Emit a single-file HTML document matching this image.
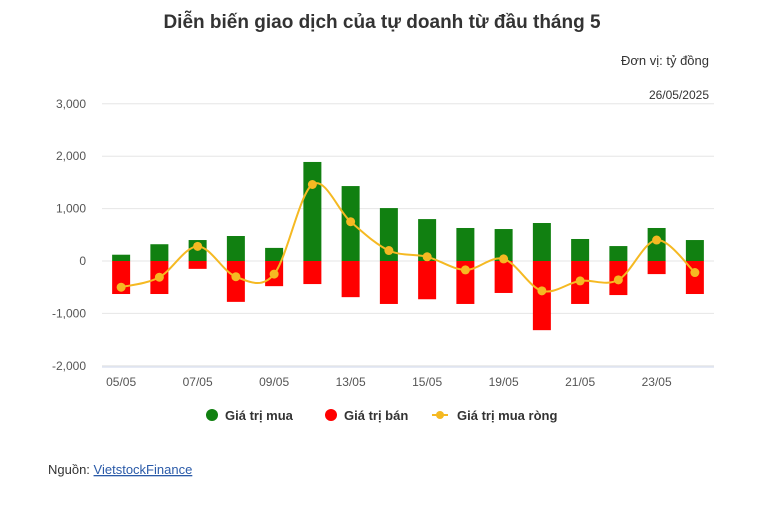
<!DOCTYPE html>
<html><head><meta charset="utf-8"><style>
body{margin:0;background:#fff;font-family:"Liberation Sans",sans-serif;}
#wrap{position:relative;width:757px;height:510px;overflow:hidden}
</style></head><body>
<div id="wrap">
<svg id="chart" width="757" height="510">
<text x="382" y="28" text-anchor="middle" font-size="19" font-weight="bold" fill="#333">Diễn biến giao dịch của tự doanh từ đầu tháng 5</text>
<text x="709" y="65" text-anchor="end" font-size="13" fill="#333">Đơn vị: tỷ đồng</text>
<text x="709" y="99" text-anchor="end" font-size="12" fill="#333">26/05/2025</text>
<g id="grid"></g><g id="bars"></g><g id="line"></g><g id="xaxis"></g>
<g>
<g><circle cx="212" cy="415" r="6" fill="#118011"/><text x="225" y="420" font-size="13" font-weight="bold" fill="#333">Giá trị mua</text></g>
<g><circle cx="331" cy="415" r="6" fill="#ff0000"/><text x="344" y="420" font-size="13" font-weight="bold" fill="#333">Giá trị bán</text></g>
<g><line x1="432" y1="415" x2="448" y2="415" stroke="#f5b922" stroke-width="2"/><circle cx="440" cy="415" r="4" fill="#f5b922"/><text x="457" y="420" font-size="13" font-weight="bold" fill="#333">Giá trị mua ròng</text></g>
</g>
<text x="48" y="474" font-size="13" fill="#333">Nguồn: <tspan fill="#2a5aa8" text-decoration="underline">VietstockFinance</tspan></text>
</svg>
</div>
<script>
const categories=["05/05","06/05","07/05","08/05","09/05","12/05","13/05","14/05","15/05","16/05","19/05","20/05","21/05","22/05","23/05","26/05"];
const buyValues=[120,320,400,477,250,1890,1430,1010,800,630,610,725,420,285,630,400];
const sellValues=[-630,-630,-150,-780,-480,-440,-690,-820,-730,-820,-610,-1320,-820,-650,-250,-630];
const netValues=[-500,-310,280,-300,-250,1460,750,200,80,-170,40,-570,-380,-360,400,-220];
const yTicks=[3000,2000,1000,0,-1000,-2000];
const yTickLabels=["3,000","2,000","1,000","0","-1,000","-2,000"];
const NS="http://www.w3.org/2000/svg";
const x0=102,x1=714,step=(x1-x0)/categories.length;
const xc=i=>x0+step*(i+0.5);
const y=v=>261-v*0.0524;
function mk(t,a,p){const e=document.createElementNS(NS,t);for(const k in a)e.setAttribute(k,a[k]);p.appendChild(e);return e;}
const grid=document.getElementById('grid');
yTicks.forEach((v,i)=>{
 const l=mk('line',{x1:x0,x2:x1,y1:y(v),y2:y(v),stroke:'#e6e6e6'},grid);
 
 
 const t=mk('text',{x:86,y:y(v)+4,'text-anchor':'end','font-size':12,fill:'#555'},grid);
 t.textContent=yTickLabels[i];
 
 
});
const xa=document.getElementById('xaxis');
const ax=mk('line',{x1:x0,x2:x1,y1:367,y2:367,stroke:'#ccd6eb'},xa);


categories.forEach((c,i)=>{
 if(i%2) return;
 const t=mk('text',{x:xc(i),y:386,'text-anchor':'middle','font-size':12,fill:'#555'},xa);
 t.textContent=c;
 
 
});
const bars=document.getElementById('bars');const bw=18;
categories.forEach((c,i)=>{
 const b=mk('rect',{x:xc(i)-bw/2,y:y(buyValues[i]),width:bw,height:y(0)-y(buyValues[i]),fill:'#118011'},bars);
 
 
 const s=mk('rect',{x:xc(i)-bw/2,y:y(0),width:bw,height:y(sellValues[i])-y(0),fill:'#ff0000'},bars);
 
 
});
const lg=document.getElementById('line');
const pts=netValues.map((v,i)=>[xc(i),y(v)]);
let d=`M${pts[0][0]},${pts[0][1]}`;
for(let i=0;i<pts.length-1;i++){
 const p0=pts[Math.max(0,i-1)],p1=pts[i],p2=pts[i+1],p3=pts[Math.min(pts.length-1,i+2)];
 const c1=[p1[0]+(p2[0]-p0[0])/6,p1[1]+(p2[1]-p0[1])/6];
 const c2=[p2[0]-(p3[0]-p1[0])/6,p2[1]-(p3[1]-p1[1])/6];
 d+=` C${c1[0]},${c1[1]} ${c2[0]},${c2[1]} ${p2[0]},${p2[1]}`;
}
const path=mk('path',{d:d,fill:'none',stroke:'#f5b922','stroke-width':2},lg);


pts.forEach(p=>{
 const c=mk('circle',{cx:p[0],cy:p[1],r:4.5,fill:'#f5b922'},lg);
 
 
});
</script>
</body></html>
